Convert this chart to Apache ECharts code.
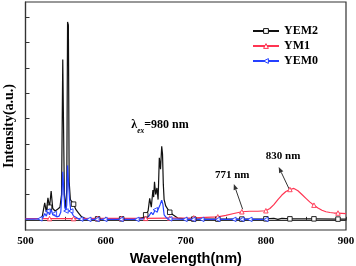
<!DOCTYPE html>
<html><head><meta charset="utf-8">
<script src="https://cdn.jsdelivr.net/npm/echarts@6/dist/echarts.min.js"></script>
<style>html,body{margin:0;padding:0;background:#fff}#c{width:356px;height:266px}</style>
</head><body><div id="c"></div>
<script>
const seriesNames = ['YEM2', 'YM1', 'YEM0'];
const xTicks = [500, 600, 700, 800, 900];
const yTicks = [0, 1, 2, 3, 4, 5, 6, 7, 8];

const yem2 = [[500,0.05],[510,0.05],[518,0.06],[521,0.15],[523,0.5],[524,0.67],[526,0.3],[528,0.87],[530,0.5],[532,1.14],[534,0.45],[537,0.35],[540,0.42],[543,0.5],[545,1.0],[546.5,6.33],[547.5,6.3],[548.5,1.0],[550,0.45],[551.5,1.2],[552.5,7.81],[553.5,7.7],[554.5,1.5],[556,0.8],[560,0.62],[563,0.4],[566,0.28],[570,0.12],[575,0.05],[590,0.04],[620,0.04],[640,0.05],[648,0.1],[650,0.2],[653,0.35],[655,0.85],[657,0.5],[659,1.18],[660,0.9],[661,1.5],[662.5,1.0],[664,1.26],[665.5,0.8],[667,2.45],[668.5,2.0],[670,2.9],[671,2.6],[672,1.4],[673,0.8],[675,0.55],[678,0.4],[680,0.3],[684,0.2],[690,0.07],[700,0.04],[710,0.03],[740,0.03],[770,0.03],[800,0.04],[810,0.06],[815,0.02],[820,0.06],[830,0.04],[860,0.04],[890,0.03],[900,0.03]];
const yem2Markers = [530,560,590,620,650,680,710,740,770,800,830,860,890];

const ym1 = [[500,0.05],[530,0.05],[560,0.05],[590,0.06],[620,0.06],[650,0.06],[680,0.07],[710,0.08],[740,0.12],[750,0.18],[760,0.25],[770,0.32],[780,0.34],[790,0.34],[800,0.36],[805,0.45],[810,0.6],[815,0.8],[820,0.98],[825,1.12],[830,1.2],[835,1.24],[840,1.15],[845,1.0],[850,0.85],[855,0.7],[860,0.58],[865,0.47],[870,0.38],[875,0.32],[880,0.29],[885,0.27],[890,0.27],[900,0.25]];
const ym1Markers = [530,560,590,620,650,680,710,740,770,800,830,860,890];

const yem0 = [[500,0.03],[510,0.03],[518,0.04],[522,0.1],[524,0.25],[526,0.15],[528,0.35],[530,0.2],[532,0.42],[534,0.2],[536,0.25],[539,0.12],[542,0.15],[544,0.3],[545.5,1.0],[546.5,1.9],[548,1.85],[549,0.5],[550.5,0.35],[551.5,0.6],[552.5,2.15],[554,2.1],[555,0.8],[556.5,0.35],[560,0.15],[565,0.06],[569,0.03],[579,0.02],[589,0.02],[599,0.02],[619,0.02],[639,0.02],[650,0.05],[654,0.15],[657,0.3],[659,0.2],[662,0.4],[664,0.3],[666,0.45],[668,0.6],[670,0.78],[671.5,0.6],[673,0.2],[676,0.08],[680,0.04],[699,0.02],[709,0.02],[720,0.02],[740,0.02],[760,0.02],[770,0.02],[780,0.02],[800,0.02]];
const yem0Markers = [518,528,536,550.5,556.5,569,579,589,599,619,639,662,680,699,709,720,740,760,770,780,800];

const colors = ['#111111', '#ff3552', '#2540ff'];
const symbols = ['rect', 'triangle', 'triangle'];
const rotates = [0, 0, 90];

function build(data, markers) {
  return data.map(p => markers.includes(p[0]) ? { value: p } : { value: p, symbol: 'none' });
}

const serif = 'Liberation Serif';
const chart = echarts.init(document.getElementById('c'), null, { renderer: 'canvas' });
const all = [[yem2, yem2Markers], [ym1, ym1Markers], [yem0, yem0Markers]];

chart.setOption({
  animation: false,
  backgroundColor: '#fff',
  grid: { left: 25.5, right: 10, top: 2, bottom: 36, outerBoundsMode: 'none', containLabel: false, show: true, borderColor: '#333', borderWidth: 1.2, backgroundColor: 'transparent' },
  legend: {
    data: seriesNames, orient: 'vertical', left: 252, top: 25,
    itemWidth: 26, itemHeight: 6, itemGap: 3, padding: 0,
    itemStyle: { color: '#fff', borderWidth: 1 },
    textStyle: { fontFamily: serif, fontWeight: 'bold', fontSize: 12, color: '#000', lineHeight: 12 }
  },
  xAxis: {
    type: 'value', min: 500, max: 900, interval: 50,
    axisLine: { lineStyle: { color: '#333', width: 1.2 } },
    axisTick: { inside: true, length: 3, lineStyle: { color: '#333' } },
    axisLabel: { margin: 6, fontFamily: serif, fontWeight: 'bold', fontSize: 11, color: '#000',
      formatter: v => xTicks.includes(v) ? String(v) : '' },
    splitLine: { show: false },
    name: 'Wavelength(nm)', nameLocation: 'middle', nameGap: 20,
    nameTextStyle: { fontFamily: 'Liberation Sans', fontWeight: 'bold', fontSize: 14.5, color: '#000' }
  },
  yAxis: {
    type: 'value', min: -0.4, max: 8.6,
    axisLine: { show: true, lineStyle: { color: '#333', width: 1.2 } },
    axisTick: { show: true, inside: true, length: 4, customValues: yTicks, lineStyle: { color: '#333' } },
    axisLabel: { show: false },
    splitLine: { show: false },
    name: 'Intensity(a.u.)', nameLocation: 'middle', nameGap: 9,
    nameTextStyle: { fontFamily: serif, fontWeight: 'bold', fontSize: 14, color: '#000', padding: [0, 20, 0, 0] }
  },
  series: seriesNames.map((n, i) => ({
    name: n, type: 'line', data: build(all[i][0], all[i][1]),
    symbol: symbols[i], symbolSize: 4.5, symbolRotate: rotates[i],
    color: colors[i],
    lineStyle: { width: 1.2, color: colors[i] },
    itemStyle: { color: '#fff', borderColor: colors[i], borderWidth: 0.9 },
    emphasis: { disabled: true }
  }))
});

function px(x, y) { return chart.convertToPixel({ gridIndex: 0 }, [x, y]); }
function arrow(tail, head) {
  const t = px(tail[0], tail[1]), h = px(head[0], head[1]);
  const dx = h[0] - t[0], dy = h[1] - t[1], L = Math.hypot(dx, dy);
  const ux = dx / L, uy = dy / L, al = 6, aw = 2.3;
  const bx = h[0] - ux * al, by = h[1] - uy * al;
  return [
    { type: 'line', shape: { x1: t[0], y1: t[1], x2: bx, y2: by }, style: { stroke: '#333', lineWidth: 1 } },
    { type: 'polygon', shape: { points: [[h[0], h[1]], [bx - uy * aw, by + ux * aw], [bx + uy * aw, by - ux * aw]] }, style: { fill: '#333' } }
  ];
}
const textStyle = { fontFamily: serif, fontWeight: 'bold', fontSize: 11, fill: '#000' };
const p771 = px(758, 1.77), p830 = px(821.5, 2.52), pEx = px(632, 3.66);
chart.setOption({
  graphic: [
    ...arrow([771, 0.42], [760, 1.42]),
    ...arrow([829, 1.22], [816, 2.09]),
    { type: 'text', x: p771[0], y: p771[1], style: Object.assign({ text: '771 nm', align: 'center', verticalAlign: 'middle' }, textStyle) },
    { type: 'text', x: p830[0], y: p830[1], style: Object.assign({ text: '830 nm', align: 'center', verticalAlign: 'middle' }, textStyle) },
    { type: 'text', x: pEx[0], y: pEx[1], style: {
      text: '{a|λ}{b|ex}{a|=980 nm}', align: 'left', verticalAlign: 'middle',
      rich: {
        a: { fontFamily: serif, fontWeight: 'bold', fontSize: 12, fill: '#000', lineHeight: 16, verticalAlign: 'top' },
        b: { fontFamily: serif, fontStyle: 'italic', fontWeight: 'bold', fontSize: 7.5, fill: '#000', lineHeight: 16, verticalAlign: 'bottom', padding: [6, 0, 0, 0] }
      } } }
  ]
});
</script></body></html>
